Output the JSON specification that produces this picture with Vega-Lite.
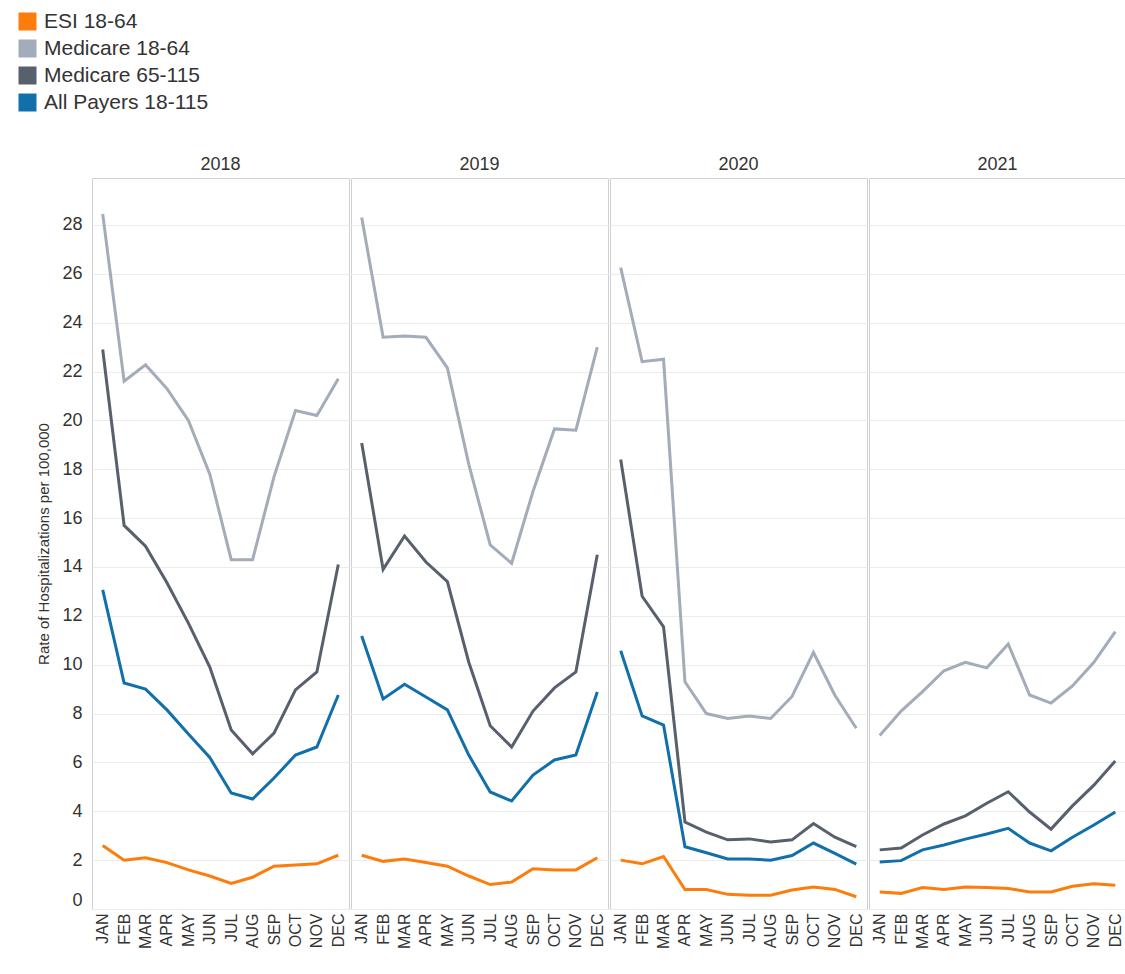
{
  "$schema": "https://vega.github.io/schema/vega-lite/v6.json",
  "background": "white",
  "padding": {"left": 12, "top": 6, "right": 0, "bottom": 0},
  "config": {
    "font": "Liberation Sans",
    "view": {"stroke": "#d0d0d0", "strokeWidth": 1},
    "axis": {"labelColor": "#333333", "titleColor": "#333333", "labelFont": "Liberation Sans", "titleFont": "Liberation Sans"},
    "header": {"labelFont": "Liberation Sans"},
    "facet": {"spacing": 0}
  },
  "data": {"values": [
    {"Year": 2018, "Month": "JAN", "Series": "ESI 18-64", "Rate": 2.6},
    {"Year": 2018, "Month": "FEB", "Series": "ESI 18-64", "Rate": 2.0},
    {"Year": 2018, "Month": "MAR", "Series": "ESI 18-64", "Rate": 2.1},
    {"Year": 2018, "Month": "APR", "Series": "ESI 18-64", "Rate": 1.9},
    {"Year": 2018, "Month": "MAY", "Series": "ESI 18-64", "Rate": 1.6},
    {"Year": 2018, "Month": "JUN", "Series": "ESI 18-64", "Rate": 1.35},
    {"Year": 2018, "Month": "JUL", "Series": "ESI 18-64", "Rate": 1.05},
    {"Year": 2018, "Month": "AUG", "Series": "ESI 18-64", "Rate": 1.3},
    {"Year": 2018, "Month": "SEP", "Series": "ESI 18-64", "Rate": 1.75},
    {"Year": 2018, "Month": "OCT", "Series": "ESI 18-64", "Rate": 1.8},
    {"Year": 2018, "Month": "NOV", "Series": "ESI 18-64", "Rate": 1.85},
    {"Year": 2018, "Month": "DEC", "Series": "ESI 18-64", "Rate": 2.2},
    {"Year": 2019, "Month": "JAN", "Series": "ESI 18-64", "Rate": 2.2},
    {"Year": 2019, "Month": "FEB", "Series": "ESI 18-64", "Rate": 1.95},
    {"Year": 2019, "Month": "MAR", "Series": "ESI 18-64", "Rate": 2.05},
    {"Year": 2019, "Month": "APR", "Series": "ESI 18-64", "Rate": 1.9},
    {"Year": 2019, "Month": "MAY", "Series": "ESI 18-64", "Rate": 1.75},
    {"Year": 2019, "Month": "JUN", "Series": "ESI 18-64", "Rate": 1.35},
    {"Year": 2019, "Month": "JUL", "Series": "ESI 18-64", "Rate": 1.0},
    {"Year": 2019, "Month": "AUG", "Series": "ESI 18-64", "Rate": 1.1},
    {"Year": 2019, "Month": "SEP", "Series": "ESI 18-64", "Rate": 1.65},
    {"Year": 2019, "Month": "OCT", "Series": "ESI 18-64", "Rate": 1.6},
    {"Year": 2019, "Month": "NOV", "Series": "ESI 18-64", "Rate": 1.6},
    {"Year": 2019, "Month": "DEC", "Series": "ESI 18-64", "Rate": 2.1},
    {"Year": 2020, "Month": "JAN", "Series": "ESI 18-64", "Rate": 2.0},
    {"Year": 2020, "Month": "FEB", "Series": "ESI 18-64", "Rate": 1.85},
    {"Year": 2020, "Month": "MAR", "Series": "ESI 18-64", "Rate": 2.15},
    {"Year": 2020, "Month": "APR", "Series": "ESI 18-64", "Rate": 0.8},
    {"Year": 2020, "Month": "MAY", "Series": "ESI 18-64", "Rate": 0.8},
    {"Year": 2020, "Month": "JUN", "Series": "ESI 18-64", "Rate": 0.6},
    {"Year": 2020, "Month": "JUL", "Series": "ESI 18-64", "Rate": 0.56},
    {"Year": 2020, "Month": "AUG", "Series": "ESI 18-64", "Rate": 0.56},
    {"Year": 2020, "Month": "SEP", "Series": "ESI 18-64", "Rate": 0.78},
    {"Year": 2020, "Month": "OCT", "Series": "ESI 18-64", "Rate": 0.9},
    {"Year": 2020, "Month": "NOV", "Series": "ESI 18-64", "Rate": 0.8},
    {"Year": 2020, "Month": "DEC", "Series": "ESI 18-64", "Rate": 0.5},
    {"Year": 2021, "Month": "JAN", "Series": "ESI 18-64", "Rate": 0.7},
    {"Year": 2021, "Month": "FEB", "Series": "ESI 18-64", "Rate": 0.64},
    {"Year": 2021, "Month": "MAR", "Series": "ESI 18-64", "Rate": 0.88},
    {"Year": 2021, "Month": "APR", "Series": "ESI 18-64", "Rate": 0.8},
    {"Year": 2021, "Month": "MAY", "Series": "ESI 18-64", "Rate": 0.9},
    {"Year": 2021, "Month": "JUN", "Series": "ESI 18-64", "Rate": 0.88},
    {"Year": 2021, "Month": "JUL", "Series": "ESI 18-64", "Rate": 0.84},
    {"Year": 2021, "Month": "AUG", "Series": "ESI 18-64", "Rate": 0.7},
    {"Year": 2021, "Month": "SEP", "Series": "ESI 18-64", "Rate": 0.7},
    {"Year": 2021, "Month": "OCT", "Series": "ESI 18-64", "Rate": 0.93},
    {"Year": 2021, "Month": "NOV", "Series": "ESI 18-64", "Rate": 1.03},
    {"Year": 2021, "Month": "DEC", "Series": "ESI 18-64", "Rate": 0.97},

    {"Year": 2018, "Month": "JAN", "Series": "Medicare 18-64", "Rate": 28.45},
    {"Year": 2018, "Month": "FEB", "Series": "Medicare 18-64", "Rate": 21.6},
    {"Year": 2018, "Month": "MAR", "Series": "Medicare 18-64", "Rate": 22.27},
    {"Year": 2018, "Month": "APR", "Series": "Medicare 18-64", "Rate": 21.3},
    {"Year": 2018, "Month": "MAY", "Series": "Medicare 18-64", "Rate": 20.0},
    {"Year": 2018, "Month": "JUN", "Series": "Medicare 18-64", "Rate": 17.8},
    {"Year": 2018, "Month": "JUL", "Series": "Medicare 18-64", "Rate": 14.3},
    {"Year": 2018, "Month": "AUG", "Series": "Medicare 18-64", "Rate": 14.3},
    {"Year": 2018, "Month": "SEP", "Series": "Medicare 18-64", "Rate": 17.7},
    {"Year": 2018, "Month": "OCT", "Series": "Medicare 18-64", "Rate": 20.4},
    {"Year": 2018, "Month": "NOV", "Series": "Medicare 18-64", "Rate": 20.2},
    {"Year": 2018, "Month": "DEC", "Series": "Medicare 18-64", "Rate": 21.7},
    {"Year": 2019, "Month": "JAN", "Series": "Medicare 18-64", "Rate": 28.3},
    {"Year": 2019, "Month": "FEB", "Series": "Medicare 18-64", "Rate": 23.4},
    {"Year": 2019, "Month": "MAR", "Series": "Medicare 18-64", "Rate": 23.45},
    {"Year": 2019, "Month": "APR", "Series": "Medicare 18-64", "Rate": 23.4},
    {"Year": 2019, "Month": "MAY", "Series": "Medicare 18-64", "Rate": 22.15},
    {"Year": 2019, "Month": "JUN", "Series": "Medicare 18-64", "Rate": 18.2},
    {"Year": 2019, "Month": "JUL", "Series": "Medicare 18-64", "Rate": 14.9},
    {"Year": 2019, "Month": "AUG", "Series": "Medicare 18-64", "Rate": 14.15},
    {"Year": 2019, "Month": "SEP", "Series": "Medicare 18-64", "Rate": 17.1},
    {"Year": 2019, "Month": "OCT", "Series": "Medicare 18-64", "Rate": 19.65},
    {"Year": 2019, "Month": "NOV", "Series": "Medicare 18-64", "Rate": 19.6},
    {"Year": 2019, "Month": "DEC", "Series": "Medicare 18-64", "Rate": 23.0},
    {"Year": 2020, "Month": "JAN", "Series": "Medicare 18-64", "Rate": 26.25},
    {"Year": 2020, "Month": "FEB", "Series": "Medicare 18-64", "Rate": 22.4},
    {"Year": 2020, "Month": "MAR", "Series": "Medicare 18-64", "Rate": 22.5},
    {"Year": 2020, "Month": "APR", "Series": "Medicare 18-64", "Rate": 9.3},
    {"Year": 2020, "Month": "MAY", "Series": "Medicare 18-64", "Rate": 8.0},
    {"Year": 2020, "Month": "JUN", "Series": "Medicare 18-64", "Rate": 7.8},
    {"Year": 2020, "Month": "JUL", "Series": "Medicare 18-64", "Rate": 7.9},
    {"Year": 2020, "Month": "AUG", "Series": "Medicare 18-64", "Rate": 7.8},
    {"Year": 2020, "Month": "SEP", "Series": "Medicare 18-64", "Rate": 8.7},
    {"Year": 2020, "Month": "OCT", "Series": "Medicare 18-64", "Rate": 10.5},
    {"Year": 2020, "Month": "NOV", "Series": "Medicare 18-64", "Rate": 8.75},
    {"Year": 2020, "Month": "DEC", "Series": "Medicare 18-64", "Rate": 7.4},
    {"Year": 2021, "Month": "JAN", "Series": "Medicare 18-64", "Rate": 7.1},
    {"Year": 2021, "Month": "FEB", "Series": "Medicare 18-64", "Rate": 8.1},
    {"Year": 2021, "Month": "MAR", "Series": "Medicare 18-64", "Rate": 8.9},
    {"Year": 2021, "Month": "APR", "Series": "Medicare 18-64", "Rate": 9.75},
    {"Year": 2021, "Month": "MAY", "Series": "Medicare 18-64", "Rate": 10.1},
    {"Year": 2021, "Month": "JUN", "Series": "Medicare 18-64", "Rate": 9.87},
    {"Year": 2021, "Month": "JUL", "Series": "Medicare 18-64", "Rate": 10.85},
    {"Year": 2021, "Month": "AUG", "Series": "Medicare 18-64", "Rate": 8.76},
    {"Year": 2021, "Month": "SEP", "Series": "Medicare 18-64", "Rate": 8.43},
    {"Year": 2021, "Month": "OCT", "Series": "Medicare 18-64", "Rate": 9.13},
    {"Year": 2021, "Month": "NOV", "Series": "Medicare 18-64", "Rate": 10.1},
    {"Year": 2021, "Month": "DEC", "Series": "Medicare 18-64", "Rate": 11.35},

    {"Year": 2018, "Month": "JAN", "Series": "Medicare 65-115", "Rate": 22.9},
    {"Year": 2018, "Month": "FEB", "Series": "Medicare 65-115", "Rate": 15.7},
    {"Year": 2018, "Month": "MAR", "Series": "Medicare 65-115", "Rate": 14.85},
    {"Year": 2018, "Month": "APR", "Series": "Medicare 65-115", "Rate": 13.35},
    {"Year": 2018, "Month": "MAY", "Series": "Medicare 65-115", "Rate": 11.7},
    {"Year": 2018, "Month": "JUN", "Series": "Medicare 65-115", "Rate": 9.9},
    {"Year": 2018, "Month": "JUL", "Series": "Medicare 65-115", "Rate": 7.33},
    {"Year": 2018, "Month": "AUG", "Series": "Medicare 65-115", "Rate": 6.35},
    {"Year": 2018, "Month": "SEP", "Series": "Medicare 65-115", "Rate": 7.2},
    {"Year": 2018, "Month": "OCT", "Series": "Medicare 65-115", "Rate": 8.97},
    {"Year": 2018, "Month": "NOV", "Series": "Medicare 65-115", "Rate": 9.7},
    {"Year": 2018, "Month": "DEC", "Series": "Medicare 65-115", "Rate": 14.1},
    {"Year": 2019, "Month": "JAN", "Series": "Medicare 65-115", "Rate": 19.07},
    {"Year": 2019, "Month": "FEB", "Series": "Medicare 65-115", "Rate": 13.9},
    {"Year": 2019, "Month": "MAR", "Series": "Medicare 65-115", "Rate": 15.27},
    {"Year": 2019, "Month": "APR", "Series": "Medicare 65-115", "Rate": 14.2},
    {"Year": 2019, "Month": "MAY", "Series": "Medicare 65-115", "Rate": 13.4},
    {"Year": 2019, "Month": "JUN", "Series": "Medicare 65-115", "Rate": 10.1},
    {"Year": 2019, "Month": "JUL", "Series": "Medicare 65-115", "Rate": 7.5},
    {"Year": 2019, "Month": "AUG", "Series": "Medicare 65-115", "Rate": 6.63},
    {"Year": 2019, "Month": "SEP", "Series": "Medicare 65-115", "Rate": 8.1},
    {"Year": 2019, "Month": "OCT", "Series": "Medicare 65-115", "Rate": 9.05},
    {"Year": 2019, "Month": "NOV", "Series": "Medicare 65-115", "Rate": 9.7},
    {"Year": 2019, "Month": "DEC", "Series": "Medicare 65-115", "Rate": 14.5},
    {"Year": 2020, "Month": "JAN", "Series": "Medicare 65-115", "Rate": 18.4},
    {"Year": 2020, "Month": "FEB", "Series": "Medicare 65-115", "Rate": 12.8},
    {"Year": 2020, "Month": "MAR", "Series": "Medicare 65-115", "Rate": 11.55},
    {"Year": 2020, "Month": "APR", "Series": "Medicare 65-115", "Rate": 3.56},
    {"Year": 2020, "Month": "MAY", "Series": "Medicare 65-115", "Rate": 3.15},
    {"Year": 2020, "Month": "JUN", "Series": "Medicare 65-115", "Rate": 2.83},
    {"Year": 2020, "Month": "JUL", "Series": "Medicare 65-115", "Rate": 2.87},
    {"Year": 2020, "Month": "AUG", "Series": "Medicare 65-115", "Rate": 2.74},
    {"Year": 2020, "Month": "SEP", "Series": "Medicare 65-115", "Rate": 2.83},
    {"Year": 2020, "Month": "OCT", "Series": "Medicare 65-115", "Rate": 3.5},
    {"Year": 2020, "Month": "NOV", "Series": "Medicare 65-115", "Rate": 2.94},
    {"Year": 2020, "Month": "DEC", "Series": "Medicare 65-115", "Rate": 2.55},
    {"Year": 2021, "Month": "JAN", "Series": "Medicare 65-115", "Rate": 2.42},
    {"Year": 2021, "Month": "FEB", "Series": "Medicare 65-115", "Rate": 2.5},
    {"Year": 2021, "Month": "MAR", "Series": "Medicare 65-115", "Rate": 3.03},
    {"Year": 2021, "Month": "APR", "Series": "Medicare 65-115", "Rate": 3.48},
    {"Year": 2021, "Month": "MAY", "Series": "Medicare 65-115", "Rate": 3.81},
    {"Year": 2021, "Month": "JUN", "Series": "Medicare 65-115", "Rate": 4.33},
    {"Year": 2021, "Month": "JUL", "Series": "Medicare 65-115", "Rate": 4.8},
    {"Year": 2021, "Month": "AUG", "Series": "Medicare 65-115", "Rate": 3.97},
    {"Year": 2021, "Month": "SEP", "Series": "Medicare 65-115", "Rate": 3.27},
    {"Year": 2021, "Month": "OCT", "Series": "Medicare 65-115", "Rate": 4.22},
    {"Year": 2021, "Month": "NOV", "Series": "Medicare 65-115", "Rate": 5.07},
    {"Year": 2021, "Month": "DEC", "Series": "Medicare 65-115", "Rate": 6.06},

    {"Year": 2018, "Month": "JAN", "Series": "All Payers 18-115", "Rate": 13.06},
    {"Year": 2018, "Month": "FEB", "Series": "All Payers 18-115", "Rate": 9.25},
    {"Year": 2018, "Month": "MAR", "Series": "All Payers 18-115", "Rate": 9.0},
    {"Year": 2018, "Month": "APR", "Series": "All Payers 18-115", "Rate": 8.15},
    {"Year": 2018, "Month": "MAY", "Series": "All Payers 18-115", "Rate": 7.16},
    {"Year": 2018, "Month": "JUN", "Series": "All Payers 18-115", "Rate": 6.2},
    {"Year": 2018, "Month": "JUL", "Series": "All Payers 18-115", "Rate": 4.75},
    {"Year": 2018, "Month": "AUG", "Series": "All Payers 18-115", "Rate": 4.5},
    {"Year": 2018, "Month": "SEP", "Series": "All Payers 18-115", "Rate": 5.36},
    {"Year": 2018, "Month": "OCT", "Series": "All Payers 18-115", "Rate": 6.3},
    {"Year": 2018, "Month": "NOV", "Series": "All Payers 18-115", "Rate": 6.63},
    {"Year": 2018, "Month": "DEC", "Series": "All Payers 18-115", "Rate": 8.76},
    {"Year": 2019, "Month": "JAN", "Series": "All Payers 18-115", "Rate": 11.17},
    {"Year": 2019, "Month": "FEB", "Series": "All Payers 18-115", "Rate": 8.6},
    {"Year": 2019, "Month": "MAR", "Series": "All Payers 18-115", "Rate": 9.2},
    {"Year": 2019, "Month": "APR", "Series": "All Payers 18-115", "Rate": 8.68},
    {"Year": 2019, "Month": "MAY", "Series": "All Payers 18-115", "Rate": 8.15},
    {"Year": 2019, "Month": "JUN", "Series": "All Payers 18-115", "Rate": 6.3},
    {"Year": 2019, "Month": "JUL", "Series": "All Payers 18-115", "Rate": 4.79},
    {"Year": 2019, "Month": "AUG", "Series": "All Payers 18-115", "Rate": 4.42},
    {"Year": 2019, "Month": "SEP", "Series": "All Payers 18-115", "Rate": 5.48},
    {"Year": 2019, "Month": "OCT", "Series": "All Payers 18-115", "Rate": 6.1},
    {"Year": 2019, "Month": "NOV", "Series": "All Payers 18-115", "Rate": 6.3},
    {"Year": 2019, "Month": "DEC", "Series": "All Payers 18-115", "Rate": 8.88},
    {"Year": 2020, "Month": "JAN", "Series": "All Payers 18-115", "Rate": 10.57},
    {"Year": 2020, "Month": "FEB", "Series": "All Payers 18-115", "Rate": 7.9},
    {"Year": 2020, "Month": "MAR", "Series": "All Payers 18-115", "Rate": 7.53},
    {"Year": 2020, "Month": "APR", "Series": "All Payers 18-115", "Rate": 2.55},
    {"Year": 2020, "Month": "MAY", "Series": "All Payers 18-115", "Rate": 2.3},
    {"Year": 2020, "Month": "JUN", "Series": "All Payers 18-115", "Rate": 2.05},
    {"Year": 2020, "Month": "JUL", "Series": "All Payers 18-115", "Rate": 2.05},
    {"Year": 2020, "Month": "AUG", "Series": "All Payers 18-115", "Rate": 2.0},
    {"Year": 2020, "Month": "SEP", "Series": "All Payers 18-115", "Rate": 2.19},
    {"Year": 2020, "Month": "OCT", "Series": "All Payers 18-115", "Rate": 2.7},
    {"Year": 2020, "Month": "NOV", "Series": "All Payers 18-115", "Rate": 2.28},
    {"Year": 2020, "Month": "DEC", "Series": "All Payers 18-115", "Rate": 1.84},
    {"Year": 2021, "Month": "JAN", "Series": "All Payers 18-115", "Rate": 1.92},
    {"Year": 2021, "Month": "FEB", "Series": "All Payers 18-115", "Rate": 1.98},
    {"Year": 2021, "Month": "MAR", "Series": "All Payers 18-115", "Rate": 2.42},
    {"Year": 2021, "Month": "APR", "Series": "All Payers 18-115", "Rate": 2.62},
    {"Year": 2021, "Month": "MAY", "Series": "All Payers 18-115", "Rate": 2.86},
    {"Year": 2021, "Month": "JUN", "Series": "All Payers 18-115", "Rate": 3.07},
    {"Year": 2021, "Month": "JUL", "Series": "All Payers 18-115", "Rate": 3.3},
    {"Year": 2021, "Month": "AUG", "Series": "All Payers 18-115", "Rate": 2.7},
    {"Year": 2021, "Month": "SEP", "Series": "All Payers 18-115", "Rate": 2.38},
    {"Year": 2021, "Month": "OCT", "Series": "All Payers 18-115", "Rate": 2.94},
    {"Year": 2021, "Month": "NOV", "Series": "All Payers 18-115", "Rate": 3.44},
    {"Year": 2021, "Month": "DEC", "Series": "All Payers 18-115", "Rate": 3.97}
  ]},
  "facet": {
    "column": {
      "field": "Year",
      "type": "ordinal",
      "title": null,
      "header": {"labelFontSize": 18, "labelColor": "#333333", "labelOrient": "top", "labelPadding": 3}
    }
  },
  "spec": {
    "width": 257,
    "height": 731,
    "mark": {"type": "line", "strokeWidth": 3},
    "encoding": {
      "x": {
        "field": "Month",
        "type": "ordinal",
        "sort": ["JAN", "FEB", "MAR", "APR", "MAY", "JUN", "JUL", "AUG", "SEP", "OCT", "NOV", "DEC"],
        "scale": {"type": "point", "padding": 0.5},
        "axis": {"title": null, "labelAngle": -90, "labelFontSize": 16, "labelPadding": 3, "ticks": false, "domain": false, "grid": false}
      },
      "y": {
        "field": "Rate",
        "type": "quantitative",
        "scale": {"domain": [0, 29.92], "nice": false, "zero": false},
        "axis": {
          "title": "Rate of Hospitalizations per 100,000",
          "titleFontSize": 15,
          "titleFontWeight": "normal",
          "titlePadding": 10,
          "values": [0, 2, 4, 6, 8, 10, 12, 14, 16, 18, 20, 22, 24, 26, 28],
          "labelFontSize": 18,
          "labelPadding": 9,
          "ticks": false,
          "domain": false,
          "gridColor": "#ececec",
          "labelFlush": true
        }
      },
      "color": {
        "field": "Series",
        "type": "nominal",
        "scale": {
          "domain": ["ESI 18-64", "Medicare 18-64", "Medicare 65-115", "All Payers 18-115"],
          "range": ["#fc7d0b", "#a3acb9", "#57606c", "#1170aa"]
        },
        "legend": {
          "title": null,
          "orient": "none",
          "legendX": -80,
          "legendY": -172,
          "fillColor": "white",
          "padding": 5,
          "symbolType": "square",
          "symbolSize": 324,
          "symbolStrokeWidth": 0,
          "labelFontSize": 21,
          "labelLimit": 400,
          "labelColor": "#333333",
          "labelFont": "Liberation Sans",
          "labelOffset": 6,
          "rowPadding": 5,
          "encode": {"symbols": {"update": {"fill": {"scale": "color", "field": "value"}, "opacity": {"value": 1}}}}
        }
      }
    }
  }
}
